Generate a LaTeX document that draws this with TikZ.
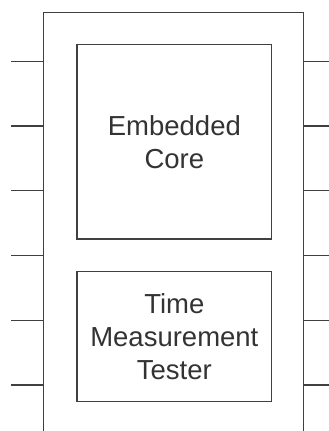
\documentclass[tikz,border=0pt]{standalone}
\usepackage{fontspec}
\setmainfont{Liberation Sans}
\usepackage{tikz}
\usetikzlibrary{positioning}
\definecolor{chipline}{HTML}{404040}
\definecolor{chiptext}{HTML}{333333}

\begin{document}
\begin{tikzpicture}[x=1pt,y=-1pt,
  block/.style={draw=chipline,line width=1.2pt,rectangle,inner sep=0pt,
    text=chiptext,align=center,font=\fontsize{27.5}{33}\selectfont},
  pin/.style={draw=chipline,line width=1.2pt}]
\useasboundingbox (0,0) rectangle (329,431);
\clip (0,0) rectangle (329,431);
% package body, open at the bottom edge
\node[block,minimum width=259.6pt,minimum height=480pt] (chip) at (173.5,252.7) {};
\node[block,minimum width=194.7pt,minimum height=194.3pt] (core) at (174.35,141.85) {Embedded\\Core};
\node[block,minimum width=194.7pt,minimum height=130pt] (tester) at (174.35,336.7) {Time\\Measurement\\Tester};
% pins on both sides
\foreach \i/\y in {1/61.3,2/126.05,3/190.8,4/255.55,5/320.3,6/385.05} {
  \coordinate (lpin\i) at (11,\y);
  \coordinate (rpin\i) at (329,\y);
  \draw[pin] (lpin\i) -- (lpin\i -| chip.west);
  \draw[pin] (chip.east |- rpin\i) -- (rpin\i);
}
\end{tikzpicture}
\end{document}
